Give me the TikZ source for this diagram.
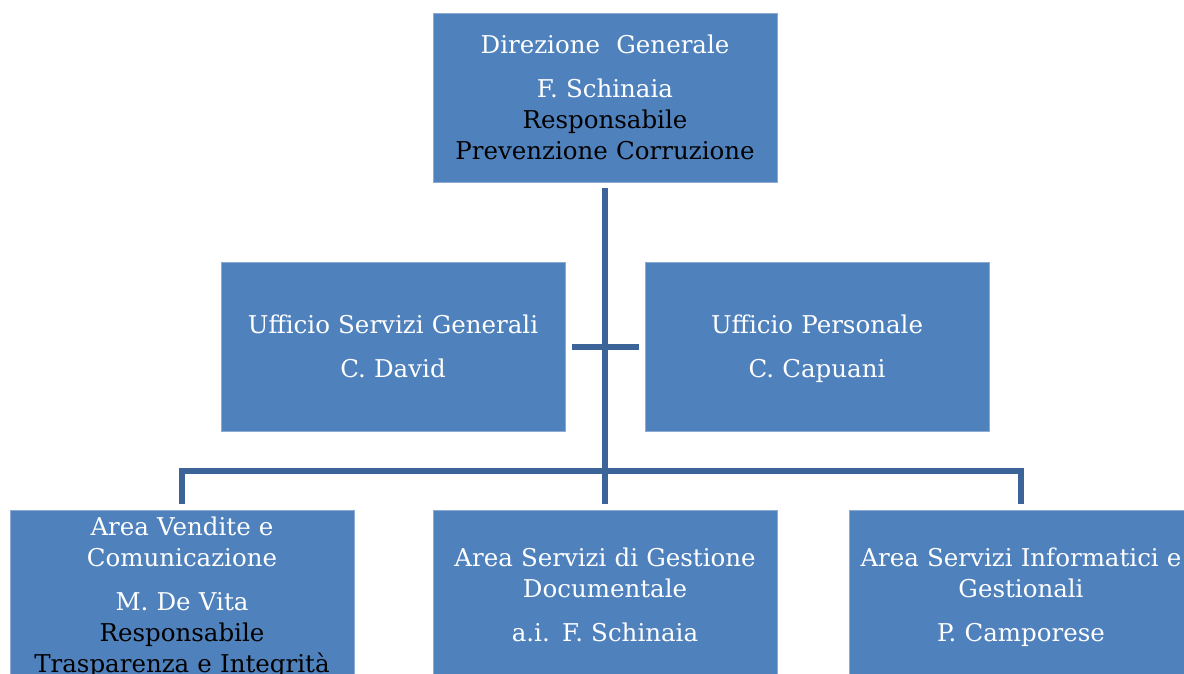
\documentclass[tikz,border=0pt]{standalone}
\usepackage{fontspec}
\setmainfont{DejaVu Serif}
\usetikzlibrary{positioning}
\definecolor{boxblue}{RGB}{79,129,189}
\definecolor{boxedge}{RGB}{140,170,210}
\definecolor{linkblue}{RGB}{60,100,152}
\newcommand{\resp}[1]{\textcolor{black}{#1}}

\begin{document}
\begin{tikzpicture}[x=1pt, y=-1pt, on grid,
  unit/.style={rectangle, fill=boxblue, draw=boxedge, line width=0.8pt,
    minimum width=344pt, minimum height=169pt, inner sep=0pt,
    text width=344pt, align=center, text=white, font=\fontsize{24.5}{31}\selectfont,
    execute at begin node={\rule{0pt}{28pt}}, execute at end node=\strut},
  link/.style={draw=linkblue, line width=6pt, line join=miter}]
\clip (0,0) rectangle (1184,673);
\node[unit] (dg) at (605,97.5) {Direzione\ \ Generale\\[13pt] F. Schinaia\\ \resp{Responsabile}\\ \resp{Prevenzione Corruzione}};
\node[unit] (usg) [below left=249pt and 212pt of dg] {Ufficio Servizi Generali\\[13pt] C. David};
\node[unit] (up) [below right=249pt and 212pt of dg] {Ufficio Personale\\[13pt] C. Capuani};
\node[unit] (asg) [below=497pt of dg] {Area Servizi di Gestione\\ Documentale\\[13pt] a.i. F. Schinaia};
\node[unit, inner ysep=-3pt] (ava) [left=423pt of asg] {Area Vendite e\\ Comunicazione\\[13pt] M. De Vita\\ \resp{Responsabile}\\ \resp{Trasparenza e Integrità}};
\node[unit] (asi) [right=416pt of asg] {Area Servizi Informatici e\\ Gestionali\\[13pt] P. Camporese};
\coordinate (bus) at (605,471);
% connectors
\draw[link] ([yshift=-6pt]dg.south) -- ([yshift=6pt]asg.north);
\draw[link] ([xshift=7pt]usg.east) -- ([xshift=-6pt]up.west);
\draw[link] ([yshift=6pt]ava.north) |- (bus) -| ([yshift=6pt]asi.north);
\end{tikzpicture}
\end{document}
